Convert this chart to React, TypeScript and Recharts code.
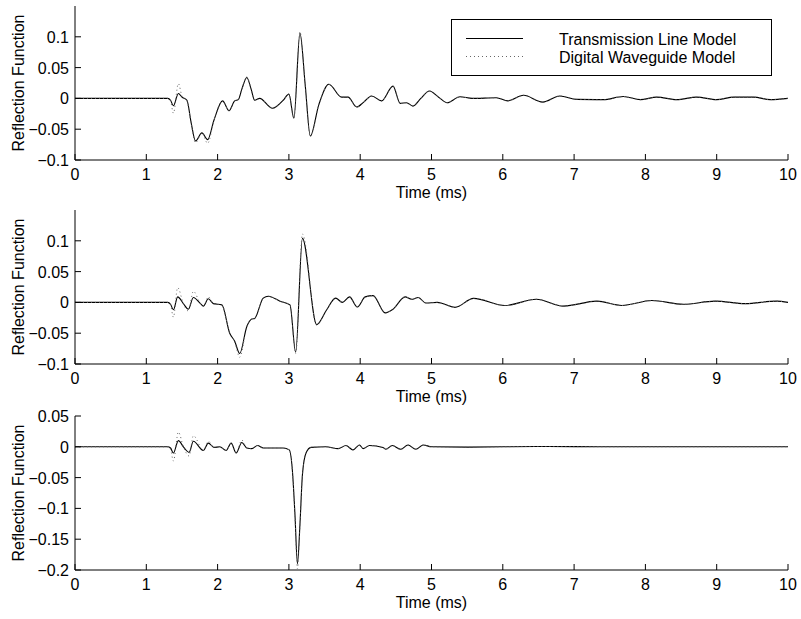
// @ts-nocheck
import { LineChart, Line, XAxis, YAxis, Legend } from "recharts";

const FONT = '"Liberation Sans", Arial, Helvetica, sans-serif';
const FS = 16;

const xTicks = [0, 1, 2, 3, 4, 5, 6, 7, 8, 9, 10];
const yTicksUpper = [-0.1, -0.05, 0, 0.05, 0.1];
const yTicksLower = [-0.2, -0.15, -0.1, -0.05, 0, 0.05];

// panel 1
const timeTop = [0, 1.3, 1.34, 1.38, 1.45, 1.5, 1.57, 1.63, 1.69, 1.78, 1.86, 1.95, 2.07, 2.16, 2.24, 2.29, 2.34, 2.41, 2.47, 2.52, 2.59, 2.77, 2.92, 3.0, 3.07, 3.155, 3.23, 3.3, 3.42, 3.56, 3.74, 3.83, 3.95, 4.05, 4.16, 4.3, 4.46, 4.56, 4.65, 4.74, 4.85, 4.97, 5.1, 5.22, 5.4, 5.57, 5.91, 6.07, 6.29, 6.56, 6.8, 7.04, 7.41, 7.69, 7.93, 8.16, 8.44, 8.72, 9.0, 9.24, 9.52, 9.75, 10];
const transTop = [0, 0, -0.003, -0.012, 0.008, 0.002, -0.003, -0.04, -0.069, -0.056, -0.067, -0.035, -0.004, -0.02, -0.004, -0.002, 0.015, 0.034, 0.015, -0.003, 0, -0.016, -0.003, 0.007, -0.032, 0.106, 0.02, -0.061, -0.01, 0.023, 0.002, 0.002, -0.014, -0.006, 0.004, -0.004, 0.02, -0.008, -0.007, -0.0125, 0, 0.012, 0.002, -0.007, 0.0027, 0, 0.001, -0.004, 0.005, -0.006, 0.004, -0.0016, -0.002, 0.003, -0.002, 0.002, -0.002, 0.002, -0.002, 0.002, 0.002, -0.002, 0];
const waveTop = [0, 0, -0.004, -0.024, 0.024, 0.004, -0.004, -0.041, -0.072, -0.056, -0.073, -0.035, -0.004, -0.02, -0.004, -0.002, 0.015, 0.035, 0.015, -0.003, 0, -0.016, -0.003, 0.007, -0.033, 0.108, 0.02, -0.062, -0.01, 0.023, 0.002, 0.002, -0.014, -0.006, 0.004, -0.004, 0.02, -0.008, -0.007, -0.0125, 0, 0.012, 0.002, -0.007, 0.0027, 0, 0.001, -0.004, 0.005, -0.006, 0.004, -0.0016, -0.002, 0.003, -0.002, 0.002, -0.002, 0.002, -0.002, 0.002, 0.002, -0.002, 0];

// panel 2
const timeMid = [0, 1.3, 1.34, 1.38, 1.44, 1.52, 1.59, 1.66, 1.76, 1.8, 1.87, 1.94, 2.06, 2.17, 2.24, 2.31, 2.41, 2.48, 2.52, 2.64, 2.71, 2.875, 3.015, 3.095, 3.19, 3.39, 3.53, 3.655, 3.75, 3.85, 3.96, 4.07, 4.18, 4.35, 4.46, 4.63, 4.72, 4.815, 4.92, 5.08, 5.33, 5.59, 6.03, 6.47, 6.85, 7.32, 7.67, 8.09, 8.53, 8.98, 9.4, 9.84, 10];
const transMid = [0, 0, -0.003, -0.012, 0.009, -0.002, -0.011, 0.008, -0.002, -0.006, 0.006, -0.002, -0.004, -0.05, -0.063, -0.083, -0.039, -0.027, -0.026, 0.007, 0.01, 0.002, -0.004, -0.081, 0.104, -0.036, -0.012, 0.007, 0, 0.009, -0.0075, 0.009, 0.011, -0.017, -0.011, 0.009, 0.005, 0.008, -0.001, 0, -0.008, 0.0065, -0.005, 0.005, -0.006, 0.002, -0.005, 0.003, -0.003, 0.002, -0.002, 0.002, 0];
const waveMid = [0, 0, -0.004, -0.024, 0.024, -0.002, -0.014, 0.018, -0.002, -0.006, 0.009, -0.002, -0.004, -0.05, -0.064, -0.089, -0.039, -0.027, -0.026, 0.007, 0.01, 0.002, -0.004, -0.083, 0.111, -0.037, -0.012, 0.007, 0, 0.009, -0.0075, 0.009, 0.011, -0.017, -0.011, 0.009, 0.005, 0.008, -0.001, 0, -0.008, 0.0065, -0.005, 0.005, -0.006, 0.002, -0.005, 0.003, -0.003, 0.002, -0.002, 0.002, 0];

// panel 3
const timeLow = [0, 1.3, 1.34, 1.38, 1.45, 1.52, 1.6, 1.66, 1.8, 1.87, 1.95, 2.03, 2.12, 2.19, 2.26, 2.34, 2.41, 2.48, 2.56, 2.64, 2.92, 3.005, 3.05, 3.085, 3.12, 3.155, 3.19, 3.24, 3.31, 3.52, 3.69, 3.8, 3.9, 3.99, 4.04, 4.13, 4.32, 4.36, 4.45, 4.57, 4.67, 4.78, 4.885, 5.0, 5.5, 6.5, 7.5, 8.5, 10];
const transLow = [0, 0, -0.002, -0.01, 0.01, 0, -0.009, 0.009, -0.006, 0.006, -0.001, 0, -0.006, 0.006, -0.01, 0.007, -0.002, -0.003, 0.002, -0.002, -0.002, -0.005, -0.04, -0.11, -0.19, -0.126, -0.045, -0.01, -0.001, 0, -0.003, 0.002, -0.005, 0.003, -0.003, 0.002, -0.001, -0.004, 0.002, -0.004, 0.003, -0.004, 0.003, 0, -0.0005, 0.0005, 0, 0, 0];
const waveLow = [0, 0, -0.004, -0.023, 0.024, 0, -0.015, 0.018, -0.006, 0.009, -0.001, 0, -0.006, 0.006, -0.01, 0.011, -0.002, -0.003, 0.002, -0.002, -0.002, -0.005, -0.041, -0.112, -0.198, -0.128, -0.046, -0.01, -0.001, 0, -0.003, 0.002, -0.005, 0.003, -0.003, 0.002, -0.001, -0.004, 0.002, -0.004, 0.003, -0.004, 0.003, 0, -0.0005, 0.0005, 0, 0, 0];

const toRows = (time, trans, wave) => time.map((t, i) => ({ t, tl: trans[i], dw: wave[i] }));

const fmt = (v) => String(v).replace("-", "\u2212");

const txt = { fontFamily: FONT, fontSize: FS, fill: "#000" };

const BottomTick = ({ x, y, payload }) => (
  <g>
    <line x1={x} x2={x} y1={y} y2={y - 6} stroke="#000" />
    <text x={x} y={y + 19.5} textAnchor="middle" style={txt}>{payload.value}</text>
  </g>
);
const TopTick = ({ x, y }) => <line x1={x} x2={x} y1={y} y2={y + 6} stroke="#000" />;
const LeftTick = ({ x, y, payload }) => (
  <g>
    <line x1={x} x2={x + 6} y1={y} y2={y} stroke="#000" />
    <text x={x - 6} y={y + 6} textAnchor="end" style={txt}>{fmt(payload.value)}</text>
  </g>
);
const RightTick = ({ x, y }) => <line x1={x} x2={x - 6} y1={y} y2={y} stroke="#000" />;

const timeLabel = ({ viewBox }) => (
  <text x={viewBox.x + viewBox.width / 2} y={viewBox.y + 37.5} textAnchor="middle" style={txt}>Time (ms)</text>
);
const yLabel = ({ viewBox }) => {
  const cy = viewBox.y + viewBox.height / 2;
  return (
    <text x={24} y={cy} textAnchor="middle" transform={`rotate(-90, 24, ${cy})`} style={txt}>Reflection Function</text>
  );
};

const seriesOrder = ["tl", "dw"];

const LegendBox = ({ payload }) => {
  const items = [...(payload || [])].sort((a, b) => seriesOrder.indexOf(a.dataKey) - seriesOrder.indexOf(b.dataKey));
  return (
    <svg width={321} height={57} style={{ display: "block" }}>
      <rect x={0.5} y={0.5} width={320} height={56} fill="#fff" stroke="#000" />
      {items.map((p, i) => (
        <g key={p.value}>
          <line x1={15} x2={72} y1={19.5 + i * 18} y2={19.5 + i * 18} stroke={p.color} strokeWidth={i ? 1 : 1.1} strokeDasharray={i ? "1 3" : undefined} />
          <text x={108} y={25.5 + i * 18.5} style={txt}>{p.value}</text>
        </g>
      ))}
    </svg>
  );
};

const PAD = 16;
const PLOT_H = 154;
const AXIS_H = 48;

function Panel({ rows, domain, yTicks, plotTop, legend }) {
  const h = PAD + PLOT_H + AXIS_H;
  return (
    <div style={{ position: "absolute", left: 0, top: plotTop - PAD, width: 801, height: h }}>
      <LineChart width={801} height={h} data={rows} margin={{ top: PAD, right: 13, left: 0, bottom: 0 }}>
        <XAxis dataKey="t" type="number" domain={[0, 10]} ticks={xTicks} interval={0} height={AXIS_H} tickSize={0} tickMargin={0} tickLine={false} axisLine={{ stroke: "#000" }} tick={BottomTick} label={{ content: timeLabel }} allowDataOverflow />
        <XAxis xAxisId="top" orientation="top" dataKey="t" type="number" domain={[0, 10]} ticks={xTicks} interval={0} height={0} tickSize={0} tickMargin={0} tickLine={false} axisLine={{ stroke: "#000" }} tick={TopTick} allowDataOverflow />
        <YAxis type="number" domain={domain} ticks={yTicks} interval={0} width={75} tickSize={0} tickMargin={0} tickLine={false} axisLine={{ stroke: "#000" }} tick={LeftTick} label={{ content: yLabel }} allowDataOverflow />
        <YAxis yAxisId="r" orientation="right" type="number" domain={domain} ticks={yTicks} interval={0} width={0} tickSize={0} tickMargin={0} tickLine={false} axisLine={{ stroke: "#000" }} tick={RightTick} allowDataOverflow />
        {legend && (
          <Legend layout="horizontal" verticalAlign="middle" align="center" content={LegendBox} wrapperStyle={{ position: "absolute", left: 451, top: 19 + PAD - 6, width: 321, height: 57 }} />
        )}
        <Line type="monotone" dataKey="tl" name="Transmission Line Model" stroke="#000" strokeWidth={1.1} dot={false} isAnimationActive={false} />
        <Line type="monotone" dataKey="dw" name="Digital Waveguide Model" stroke="#666" strokeWidth={1} strokeDasharray="1 3" dot={false} isAnimationActive={false} />
      </LineChart>
    </div>
  );
}

export default function App() {
  return (
    <div style={{ position: "absolute", left: 0, top: 0, width: 801, height: 619, background: "#fff", overflow: "hidden" }}>
      <Panel rows={toRows(timeTop, transTop, waveTop)} domain={[-0.1, 0.15]} yTicks={yTicksUpper} plotTop={6} legend />
      <Panel rows={toRows(timeMid, transMid, waveMid)} domain={[-0.1, 0.15]} yTicks={yTicksUpper} plotTop={210} />
      <Panel rows={toRows(timeLow, transLow, waveLow)} domain={[-0.2, 0.05]} yTicks={yTicksLower} plotTop={416} />
    </div>
  );
}
